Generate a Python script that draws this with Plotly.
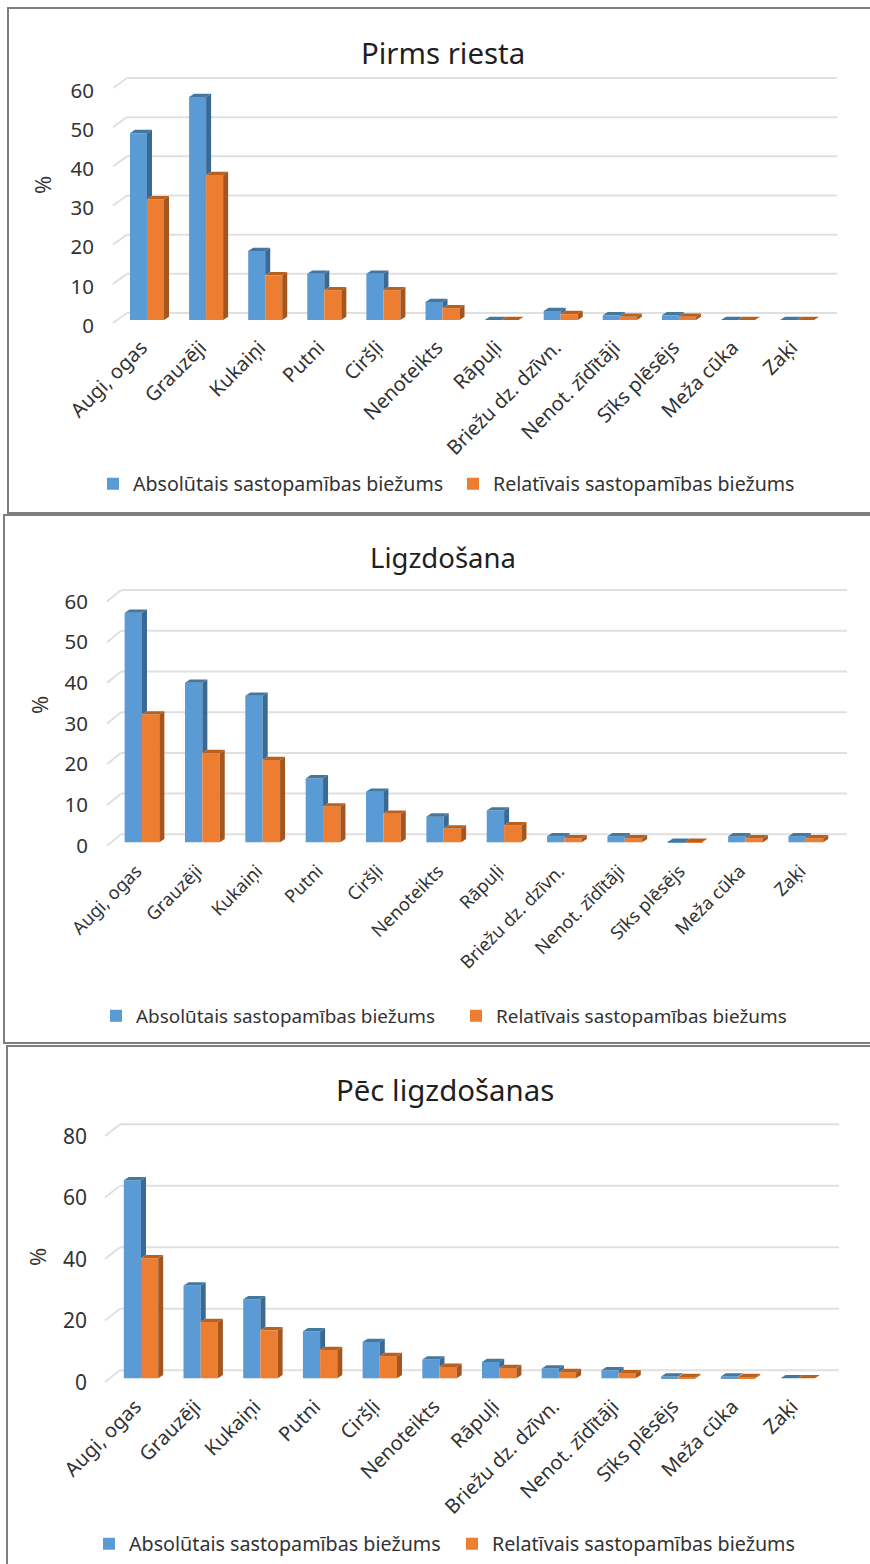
import plotly.graph_objects as go

W, H = 870, 1564
categories = ["Augi, ogas", "Grauzēji", "Kukaiņi", "Putni", "Ciršļi", "Nenoteikts", "Rāpuļi",
              "Briežu dz. dzīvn.", "Nenot. zīdītāji", "Sīks plēsējs", "Meža cūka", "Zaķi"]
series_names = ["Absolūtais sastopamības biežums", "Relatīvais sastopamības biežums"]
titles = ["Pirms riesta", "Ligzdošana", "Pēc ligzdošanas"]

absolute_1 = [47.7, 56.9, 17.6, 11.8, 11.8, 4.6, 0, 2.3, 1.2, 1.2, 0, 0]
relative_1 = [30.8, 37.0, 11.4, 7.6, 7.6, 3.0, 0, 1.5, 0.8, 0.8, 0, 0]
absolute_2 = [56.4, 39.2, 36.0, 15.7, 12.4, 6.3, 7.8, 1.5, 1.5, 0.1, 1.5, 1.5]
relative_2 = [31.4, 21.9, 20.2, 8.8, 7.0, 3.4, 4.2, 1.0, 1.0, 0.1, 1.0, 1.0]
absolute_3 = [64.4, 30.2, 25.7, 15.3, 11.8, 6.1, 5.3, 3.2, 2.6, 0.6, 0.6, 0]
relative_3 = [39.0, 18.3, 15.6, 9.2, 7.2, 3.7, 3.3, 2.0, 1.6, 0.4, 0.4, 0]
ticks_1 = [0, 10, 20, 30, 40, 50, 60]
ticks_2 = [0, 10, 20, 30, 40, 50, 60]
ticks_3 = [0, 20, 40, 60, 80]

FONT = "Noto Sans"
BLUE, ORANGE = "#5B9BD5", "#ED7D31"
BLUE_SIDE, ORANGE_SIDE = "#3A6A94", "#A5561F"
BLUE_TOP, ORANGE_TOP = "#44789F", "#B8611F"
GRID = "#E0E0E0"
BAR_W = 0.288
DX_PX, DY_PX = 5.0, 3.3
CAT_SHIFT_PX = -5.5

panels = [
    dict(abs=absolute_1, rel=relative_1, ticks=ticks_1, title=titles[0],
         x0=147, sp=59.1, base=320.0, scale=3.917, back=7, front=3, lab=2.5, dl=113, bl=127, r=837,
         L=95, B=331, T=60, tickfs=20.5, catfs=20, legfs=19.6, titlefs=29.4,
         title_xy=(443, 53), pct_xy=(42, 185), leg_xy=(93, 484), entry=315),
    dict(abs=absolute_2, rel=relative_2, ticks=ticks_2, title=titles[1],
         x0=142, sp=60.35, base=842.3, scale=4.07, back=8, front=3.4, lab=0, dl=107, bl=121, r=847,
         L=89, B=856, T=570, tickfs=20.5, catfs=18.2, legfs=18.9, titlefs=27.5,
         title_xy=(443, 557), pct_xy=(39, 705), leg_xy=(96, 1016), entry=315),
    dict(abs=absolute_3, rel=relative_3, ticks=ticks_3, title=titles[2],
         x0=141, sp=59.7, base=1378.3, scale=3.075, back=8, front=3.7, lab=0.5, dl=105, bl=120, r=839,
         L=88, B=1390, T=1105, tickfs=21, catfs=20, legfs=19.7, titlefs=29.4,
         title_xy=(445, 1090), pct_xy=(37, 1257), leg_xy=(89, 1544), entry=318),
]


def face(xs, ys, color):
    return go.Scatter(x=xs, y=ys, mode="lines", fill="toself", fillcolor=color,
                      line=dict(width=0, color=color), hoverinfo="skip", showlegend=False)


fig = go.Figure()
layout = dict(width=W, height=H, margin=dict(l=0, r=0, t=0, b=0, autoexpand=False), paper_bgcolor="white",
              plot_bgcolor="rgba(0,0,0,0)", barmode="overlay", showlegend=True)
shapes, annotations = [], []

for n, p in enumerate(panels):
    s = "" if n == 0 else str(n + 1)
    xa, ya = "x" + s, "y" + s
    dx = DX_PX / p["sp"]
    dy = DY_PX / p["scale"]
    idx = list(range(len(categories)))
    leg = "legend" + s
    for name, vals, col, off in ((series_names[0], p["abs"], BLUE, -BAR_W),
                                 (series_names[1], p["rel"], ORANGE, 0)):
        fig.add_trace(go.Bar(x=idx, y=vals, name=name, width=BAR_W, offset=off, base=0,
                             marker=dict(color=col, line=dict(width=0)),
                             xaxis=xa, yaxis=ya, legend=leg))

    def sides(vals, lows, edge):
        xs, ys = [], []
        for i, v, lo in zip(idx, vals, lows):
            e = i + edge
            xs += [e, e + dx, e + dx, e, e, None]
            ys += [lo, lo + dy, v + dy, v, lo, None]
        return xs, ys

    def tops(vals, left):
        xs, ys = [], []
        for i, v in zip(idx, vals):
            a = i + left
            xs += [a, a + BAR_W, a + BAR_W + dx, a + dx, a, None]
            ys += [v, v, v + dy, v + dy, v, None]
        return xs, ys

    for (xs, ys), col in ((sides(p["abs"], p["rel"], 0), BLUE_SIDE),
                          (tops(p["abs"], -BAR_W), BLUE_TOP),
                          (sides(p["rel"], [0] * 12, BAR_W), ORANGE_SIDE),
                          (tops(p["rel"], 0), ORANGE_TOP)):
        fig.add_trace(face(xs, ys, col).update(xaxis=xa, yaxis=ya))

    rx = [(p["L"] - p["x0"]) / p["sp"], (p["r"] + 6 - p["x0"]) / p["sp"]]
    ry = [(p["base"] - p["B"]) / p["scale"], (p["base"] - p["T"]) / p["scale"]]
    layout["xaxis" + s] = dict(
        domain=[p["L"] / W, (p["r"] + 6) / W], range=rx, anchor=ya, tickmode="array",
        tickvals=[i + CAT_SHIFT_PX / p["sp"] for i in idx], ticktext=categories, tickangle=-45,
        showgrid=False, zeroline=False, showline=False, ticks="",
        tickfont=dict(family=FONT, size=p["catfs"], color="#333333"))
    front_off = p["front"] / p["scale"]
    lab_off = (p["front"] + p["lab"]) / p["scale"]
    layout["yaxis" + s] = dict(
        domain=[1 - p["B"] / H, 1 - p["T"] / H], range=ry, anchor=xa, tickmode="array",
        tickvals=[v - lab_off for v in p["ticks"]], ticktext=[str(v) for v in p["ticks"]],
        showgrid=False, zeroline=False, showline=False, ticks="",
        tickfont=dict(family=FONT, size=p["tickfs"], color="#333333"))
    layout[leg] = dict(x=p["leg_xy"][0] / W, y=1 - p["leg_xy"][1] / H, xanchor="left", yanchor="middle",
                       orientation="h", entrywidth=p["entry"], entrywidthmode="pixels",
                       font=dict(family=FONT, size=p["legfs"], color="#333333"),
                       bgcolor="rgba(0,0,0,0)", traceorder="normal")

    back_off = p["back"] / p["scale"]
    ddx_l = (p["dl"] - p["x0"]) / p["sp"]
    bdx_l = (p["bl"] - p["x0"]) / p["sp"]
    bdx_r = (p["r"] - p["x0"]) / p["sp"]
    for v in p["ticks"]:
        common = dict(type="line", xref=xa, yref=ya, layer="below", line=dict(color=GRID, width=2))
        shapes.append(dict(x0=bdx_l, x1=bdx_r, y0=v + back_off, y1=v + back_off, **common))
        shapes.append(dict(x0=ddx_l, x1=bdx_l, y0=v - front_off, y1=v + back_off, **common))

    annotations.append(dict(text=p["title"], x=p["title_xy"][0] / W, y=1 - p["title_xy"][1] / H,
                            xref="paper", yref="paper", showarrow=False, xanchor="center", yanchor="middle",
                            font=dict(family=FONT, size=p["titlefs"], color="#1f1f1f")))
    annotations.append(dict(text="%", x=p["pct_xy"][0] / W, y=1 - p["pct_xy"][1] / H, textangle=-90,
                            xref="paper", yref="paper", showarrow=False, xanchor="center", yanchor="middle",
                            font=dict(family=FONT, size=22, color="#333333")))

frames = [(8, 8, 880, 513), (4, 515, 880, 1043), (7, 1046, 880, 1580)]
for l, t, r, b in frames:
    shapes.append(dict(type="rect", xref="paper", yref="paper", x0=l / W, x1=r / W,
                       y0=1 - t / H, y1=1 - b / H, line=dict(color="#7F7F7F", width=2),
                       fillcolor="rgba(0,0,0,0)", layer="below"))

layout["shapes"] = shapes
layout["annotations"] = annotations
fig.update_layout(**layout)
fig.write_html("out.html", config={"displayModeBar": False},
               post_script="document.body.style.margin='0';document.body.style.overflow='hidden';")
